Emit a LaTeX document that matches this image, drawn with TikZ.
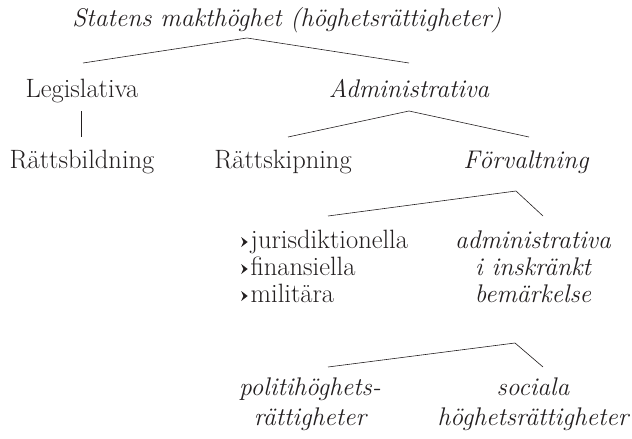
\documentclass[tikz,border=0pt]{standalone}
\usetikzlibrary{calc}
\definecolor{ink}{RGB}{35,31,32}
\newcommand{\arrbul}{\tikz[baseline=0pt,x=1pt,y=1pt]\fill[ink] (0,1)--(6.5,6)--(0,11)--(2.2,6)--cycle;\hspace{3pt}}
\begin{document}
\begin{tikzpicture}[x=1pt,y=-1pt,
  lbl/.style={font=\fontsize{26.5}{30}\selectfont, text=ink, inner sep=0pt, anchor=base},
  lbli/.style={lbl, font=\fontsize{25.5}{30}\selectfont\itshape},
  lblw/.style={lbl, anchor=base west},
  conn/.style={draw=ink, line width=0.6pt}]
\useasboundingbox (0,0) rectangle (632,439);
% nodes
\node[lbli] (title) at (287,26) {Statens makthöghet (höghetsrättigheter)};
\node[lbl]  (leg) at (82,97) {Legislativa};
\node[lbli] (adm) at (409,97) {Administrativa};
\node[lbl]  (rb) at (82,168) {Rättsbildning};
\node[lbl]  (rk) at (283,168) {Rättskipning};
\node[lbli] (forv) at (526,168) {Förvaltning};
\node[lblw] (jur) at (241,248) {\arrbul jurisdiktionella};
\node[lblw] (fin) at (241,275) {\arrbul finansiella};
\node[lblw] (mil) at (241,302) {\arrbul militära};
\node[lbli] (ai1) at (533,248) {administrativa};
\node[lbli] (ai2) at (533,275) {i inskränkt};
\node[lbli] (ai3) at (533,302) {bemärkelse};
\node[lbli] (pol1) at (310,395) {politihöghets-};
\node[lbli] (pol2) at (310,425) {rättigheter};
\node[lbli] (soc1) at (533,395) {sociala};
\node[lbli] (soc2) at (533,425) {höghetsrättigheter};
% connector points
\coordinate (t1) at (247,38);  \coordinate (t1l) at (83,63);  \coordinate (t1r) at (409,63);
\coordinate (a1) at (409,111); \coordinate (a1l) at (288,137); \coordinate (a1r) at (529,137);
\coordinate (l1) at (81,111);  \coordinate (l1b) at (81,137);
\coordinate (f1) at (516,191); \coordinate (f1l) at (328,216); \coordinate (f1r) at (543,216);
\coordinate (f2) at (515,343); \coordinate (f2l) at (328,367); \coordinate (f2r) at (543,367);
% connectors
\draw[conn] (t1l) -- (t1) -- (t1r);
\draw[conn] (l1) -- (l1b);
\draw[conn] (a1l) -- (a1) -- (a1r);
\draw[conn] (f1l) -- (f1) -- (f1r);
\draw[conn] (f2l) -- (f2) -- (f2r);
\end{tikzpicture}
\end{document}
